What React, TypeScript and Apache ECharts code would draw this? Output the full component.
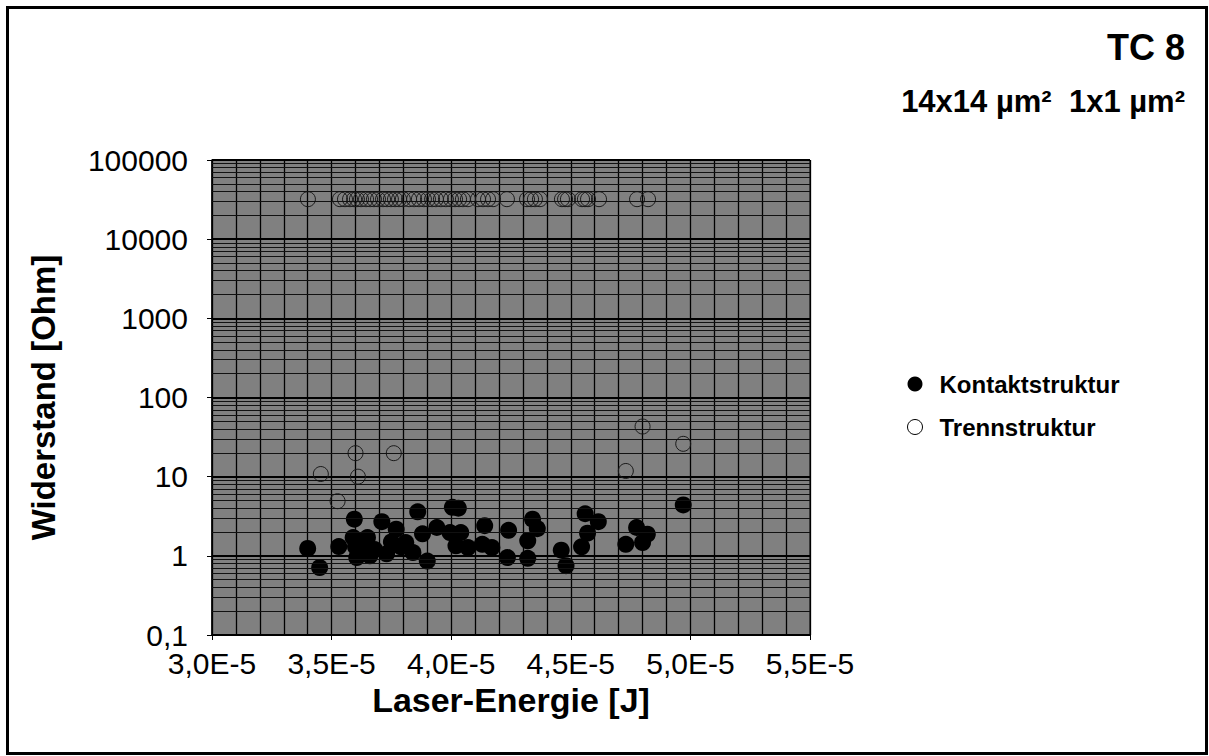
import React, { useEffect, useRef } from "react";
import * as echarts from "echarts";

// Kontaktstruktur (filled) : x in J, y in Ohm
const kontaktX = [3.40e-5, 3.45e-5, 3.53e-5, 3.595e-5, 3.59e-5, 3.605e-5, 3.60e-5, 3.62e-5, 3.65e-5, 3.66e-5, 3.68e-5, 3.71e-5, 3.73e-5, 3.75e-5, 3.77e-5, 3.79e-5, 3.81e-5, 3.84e-5, 3.86e-5, 3.88e-5, 3.90e-5, 3.94e-5, 3.995e-5, 4.005e-5, 4.03e-5, 4.04e-5, 4.02e-5, 4.07e-5, 4.13e-5, 4.14e-5, 4.17e-5, 4.24e-5, 4.235e-5, 4.32e-5, 4.32e-5, 4.34e-5, 4.36e-5, 4.46e-5, 4.48e-5, 4.545e-5, 4.56e-5, 4.57e-5, 4.615e-5, 4.73e-5, 4.775e-5, 4.80e-5, 4.82e-5, 4.97e-5];
const kontaktY = [1.24, 0.71, 1.31, 2.9, 1.7, 0.95, 1.3, 1.2, 1.7, 1.0, 1.2, 2.7, 1.06, 1.5, 2.17, 1.3, 1.47, 1.1, 3.6, 1.9, 0.86, 2.28, 1.97, 4.1, 4.0, 1.97, 1.34, 1.27, 1.4, 2.4, 1.27, 2.1, 0.95, 1.55, 0.93, 2.9, 2.2, 1.18, 0.75, 1.3, 3.4, 1.93, 2.7, 1.4, 2.28, 1.47, 1.88, 4.4];

// Trennstruktur (open)
const trennX = [3.401e-5, 3.535e-5, 3.556e-5, 3.577e-5, 3.594e-5, 3.606e-5, 3.623e-5, 3.644e-5, 3.661e-5, 3.677e-5, 3.694e-5, 3.715e-5, 3.732e-5, 3.748e-5, 3.765e-5, 3.782e-5, 3.798e-5, 3.824e-5, 3.845e-5, 3.865e-5, 3.886e-5, 3.903e-5, 3.920e-5, 3.936e-5, 3.957e-5, 3.978e-5, 3.999e-5, 4.016e-5, 4.033e-5, 4.049e-5, 4.070e-5, 4.112e-5, 4.133e-5, 4.154e-5, 4.175e-5, 4.233e-5, 4.317e-5, 4.334e-5, 4.350e-5, 4.371e-5, 4.463e-5, 4.476e-5, 4.488e-5, 4.547e-5, 4.559e-5, 4.572e-5, 4.618e-5, 4.777e-5, 4.823e-5,
  3.60e-5, 3.76e-5, 3.455e-5, 3.61e-5, 3.525e-5, 4.80e-5, 4.97e-5, 4.73e-5];
const trennY = [32000, 32000, 32000, 32000, 32000, 32000, 32000, 32000, 32000, 32000, 32000, 32000, 32000, 32000, 32000, 32000, 32000, 32000, 32000, 32000, 32000, 32000, 32000, 32000, 32000, 32000, 32000, 32000, 32000, 32000, 32000, 32000, 32000, 32000, 32000, 32000, 32000, 32000, 32000, 32000, 32000, 32000, 32000, 32000, 32000, 32000, 32000, 32000, 32000,
  19.8, 19.8, 10.8, 10.0, 4.9, 43, 26, 11.8];

const seriesNames = ["Kontaktstruktur", "Trennstruktur"];
const titleText = "TC 8";
const subtitleText = "14x14 µm²  1x1 µm²";
const xName = "Laser-Energie [J]";
const yName = "Widerstand [Ohm]";
const decades = [0.1, 1, 10, 100, 1000, 10000];

export default function App() {
  const ref = useRef<HTMLDivElement>(null);
  useEffect(() => {
    if (!ref.current) return;
    const chart = echarts.init(ref.current, null, { renderer: "svg" });
    const minorLines: { yAxis: number }[] = [];
    decades.forEach((d) => {
      for (let k = 2; k <= 9; k++) minorLines.push({ yAxis: d * k });
    });
    const font = "Arial, 'Liberation Sans', sans-serif";
    chart.setOption({
      animation: false,
      textStyle: { fontFamily: font },
      graphic: [
        {
          type: "rect",
          shape: { x: 7.5, y: 7.5, width: 1199, height: 746 },
          style: { fill: "none", stroke: "#000", lineWidth: 3 },
          z: 0,
        },
        {
          type: "text",
          right: 24,
          top: 29,
          style: { text: titleText, font: `bold 36px ${font}`, fill: "#000" },
        },
        {
          type: "text",
          right: 24,
          top: 86,
          style: { text: subtitleText, font: `bold 31px ${font}`, fill: "#000", whiteSpace: "pre" },
        },
      ],
      grid: { left: 212, top: 160, width: 598, height: 475, show: true, backgroundColor: "#808080", borderColor: "#000", borderWidth: 1 },
      legend: {
        data: [
          { name: seriesNames[0], itemStyle: { color: "#000", borderColor: "#000" } },
          { name: seriesNames[1], itemStyle: { color: "#fff", borderColor: "#000", borderWidth: 1 } },
        ],
        orient: "vertical",
        left: 902,
        top: 367,
        itemWidth: 15,
        itemHeight: 15,
        itemGap: 19,
        icon: "circle",
        textStyle: { fontSize: 24, fontWeight: "bold", color: "#000", fontFamily: font, padding: [0, 0, 0, 12] },
      },
      xAxis: {
        type: "value",
        min: 3e-5,
        max: 5.5e-5,
        interval: 0.5e-5,
        name: xName,
        nameLocation: "middle",
        nameGap: 45,
        nameTextStyle: { fontSize: 34, fontWeight: "bold", color: "#000", fontFamily: font },
        axisLine: { show: true, lineStyle: { color: "#000", width: 1.5 } },
        axisTick: { show: true, inside: false, length: 5, lineStyle: { color: "#000" } },
        axisLabel: {
          fontSize: 30,
          lineHeight: 26,
          color: "#000",
          margin: 15,
          formatter: (v: number) => (v * 1e5).toFixed(1).replace(".", ",") + "E-5",
        },
        splitLine: { show: true, lineStyle: { color: "#000", width: 1.3 } },
        minorTick: { show: false, splitNumber: 5 },
        minorSplitLine: { show: true, lineStyle: { color: "#000", width: 1.3 } },
      },
      yAxis: {
        type: "log",
        logBase: 10,
        min: 0.1,
        max: 100000,
        name: yName,
        nameLocation: "middle",
        nameGap: 152,
        nameTextStyle: { fontSize: 33, fontWeight: "bold", color: "#000", fontFamily: font },
        axisLine: { show: true, lineStyle: { color: "#000", width: 1.5 } },
        axisTick: { show: true, length: 5, lineStyle: { color: "#000" } },
        axisLabel: {
          fontSize: 30,
          lineHeight: 24,
          color: "#000",
          margin: 24,
          formatter: (v: number) => (v < 1 ? String(Math.round(v * 10) / 10).replace(".", ",") : String(Math.round(v))),
        },
        splitLine: { show: true, lineStyle: { color: "#000", width: 1.8 } },
      },
      series: [
        {
          name: "_grid",
          type: "scatter",
          data: [],
          z: 1,
          silent: true,
          markLine: {
            silent: true,
            symbol: "none",
            label: { show: false },
            lineStyle: { color: "#111", width: 1, type: "solid" },
            data: minorLines,
          },
        },
        {
          name: seriesNames[0],
          type: "scatter",
          z: 3,
          symbol: "circle",
          symbolSize: 17,
          itemStyle: { color: "#000", opacity: 1 },
          data: kontaktX.map((x, i) => [x, kontaktY[i]]),
        },
        {
          name: seriesNames[1],
          type: "scatter",
          z: 3,
          symbol: "circle",
          symbolSize: 15,
          itemStyle: { color: "rgba(0,0,0,0)", borderColor: "#1a1a1a", borderWidth: 1, opacity: 1 },
          data: trennX.map((x, i) => [x, trennY[i]]),
        },
      ],
    });
    return () => chart.dispose();
  }, []);
  return <div ref={ref} style={{ position: "fixed", left: 0, top: 0, width: 1209, height: 756, background: "#fff" }} />;
}
